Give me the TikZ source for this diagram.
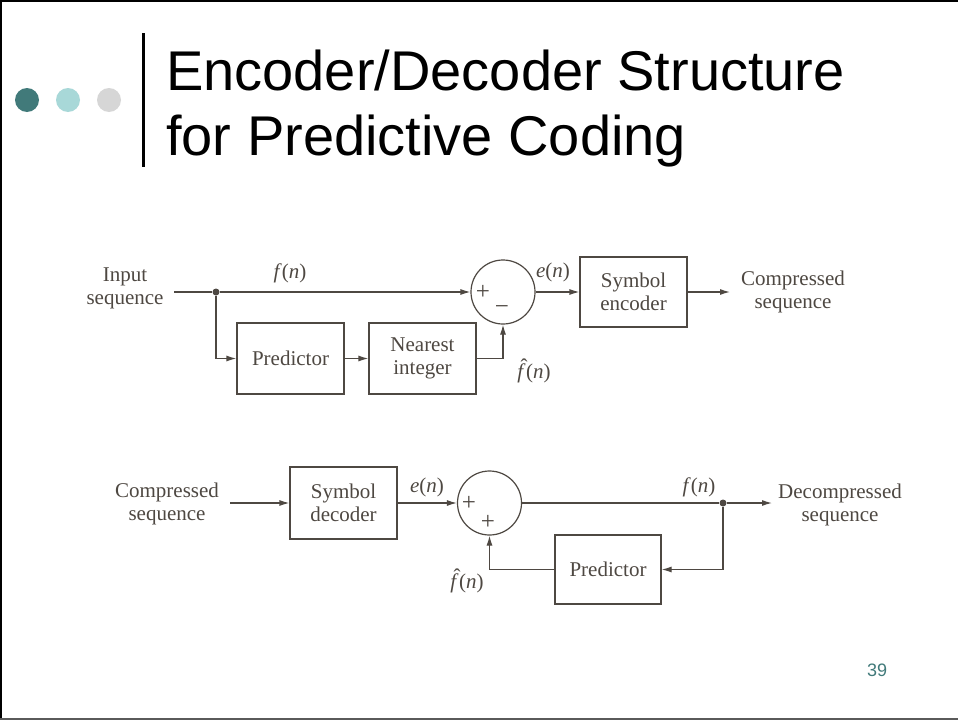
\documentclass[tikz,border=0pt]{standalone}
\usepackage{fontspec}
\setmainfont{Liberation Serif}
\newfontfamily\sansfont{Liberation Sans}
\usetikzlibrary{arrows.meta}
\definecolor{ink}{RGB}{78,72,66}
\definecolor{dotdark}{RGB}{65,122,122}
\definecolor{dotlight}{RGB}{168,216,216}
\definecolor{dotgray}{RGB}{214,214,214}
\definecolor{edge}{RGB}{90,90,90}
% f with a hat over it, followed by (n)
\newcommand{\fhatn}{\makebox[0pt][l]{\hspace{0.16em}\raisebox{0.22em}{ˆ}}\textit{f}\kern0.03em(\textit{n})}

\begin{document}
\begin{tikzpicture}[x=1pt,y=-1pt,
  block/.style={draw=ink, line width=1.2pt, minimum width=107pt, minimum height=70pt,
    text=ink, font=\fontsize{21}{23}\selectfont, align=center, inner sep=0pt},
  sumnode/.style={circle, draw=ink, line width=1.2pt, minimum size=64pt, inner sep=0pt},
  lbl/.style={text=ink, font=\fontsize{21}{23}\selectfont, align=center, inner sep=0pt},
  sgn/.style={text=ink, font=\fontsize{25}{25}\selectfont, inner sep=0pt},
  wire/.style={draw=ink, line width=1.2pt},
  arr/.style={wire, -{Latex[length=10pt,width=6pt]}},
  junction/.style={circle, fill=ink, inner sep=0pt, minimum size=7pt},
  bullet/.style={circle, inner sep=0pt, minimum size=24pt}
]
\useasboundingbox (0,0) rectangle (958,720);
\fill[white] (0,0) rectangle (958,720);

% slide frame
\draw[black, line width=2.5pt] (0,1) -- (958,1);
\draw[black, line width=2.5pt] (1,0) -- (1,720);
\draw[edge, line width=2.5pt] (0,719) -- (958,719);

% title decoration
\node[bullet, fill=dotdark] (b1) at (27,100) {};
\node[bullet, fill=dotlight] (b2) at (68,100) {};
\node[bullet, fill=dotgray] (b3) at (109,100) {};
\draw[black, line width=3pt] (143,33) -- (143,167);
\node[anchor=base west, inner sep=0pt, font=\sansfont\fontsize{56}{60}\selectfont] (t1) at (166,90) {Encoder/Decoder Structure};
\node[anchor=base west, inner sep=0pt, font=\sansfont\fontsize{56}{60}\selectfont] (t2) at (166,155) {for Predictive Coding};

% ---------- encoder ----------
\node[block, minimum height=71pt] (pred1) at (290.5,358.5) {Predictor};
\node[block, minimum height=71pt] (near) at (422.5,358.5) {Nearest\\integer};
\node[block] (enc) at (633.5,292) {Symbol\\encoder};
\node[sumnode] (sum1) at (503,292) {};
\node[junction] (j1) at (216,292) {};
\coordinate (in1) at (174,292);
\coordinate (out1) at (730,292);

\draw[wire] (in1) -- (j1);
\draw[arr] (j1) -- (sum1.west);
\draw[arr] (j1) |- (pred1.west);
\draw[arr] (pred1) -- (near);
\draw[arr] (near.east) -| (sum1.south);
\draw[arr] (sum1) -- (enc);
\draw[arr] (enc) -- (out1);

\node[lbl] (lin1) at (125,288) {Input\\sequence};
\node[lbl] (lf1) at (290,273) {\textit{f}(\textit{n})};
\node[lbl] (le1) at (553,272) {\textit{e}(\textit{n})};
\node[lbl] (lh1) at (534,371) {\fhatn};
\node[sgn] (p1) at (483,292) {+};
\node[sgn] (m1) at (502,310) {−};
\node[lbl] (lout1) at (793,292) {Compressed\\sequence};

% ---------- decoder ----------
\node[block, minimum height=72pt] (dec) at (343.5,503) {Symbol\\decoder};
\node[block, minimum width=106pt, minimum height=69pt] (pred2) at (608,569.5) {Predictor};
\node[sumnode] (sum2) at (489.5,503) {};
\node[junction] (j2) at (723,503) {};
\coordinate (in2) at (230,503);
\coordinate (out2) at (772,503);

\draw[arr] (in2) -- (dec);
\draw[arr] (dec) -- (sum2);
\draw[wire] (sum2) -- (j2);
\draw[arr] (j2) -- (out2);
\draw[arr] (j2) |- (pred2.east);
\draw[arr] (pred2.west) -| (sum2.south);

\node[lbl] (lin2) at (167,504) {Compressed\\sequence};
\node[lbl] (le2) at (427,487) {\textit{e}(\textit{n})};
\node[lbl] (lf2) at (699,487) {\textit{f}(\textit{n})};
\node[lbl] (lh2) at (467,581) {\fhatn};
\node[sgn] (p2) at (469,503) {+};
\node[sgn] (p3) at (488,522) {+};
\node[lbl] (lout2) at (840,505) {Decompressed\\sequence};

% page number
\node[text=dotdark, font=\sansfont\fontsize{18}{20}\selectfont, inner sep=0pt] (pg) at (877,670) {39};
\end{tikzpicture}
\end{document}
